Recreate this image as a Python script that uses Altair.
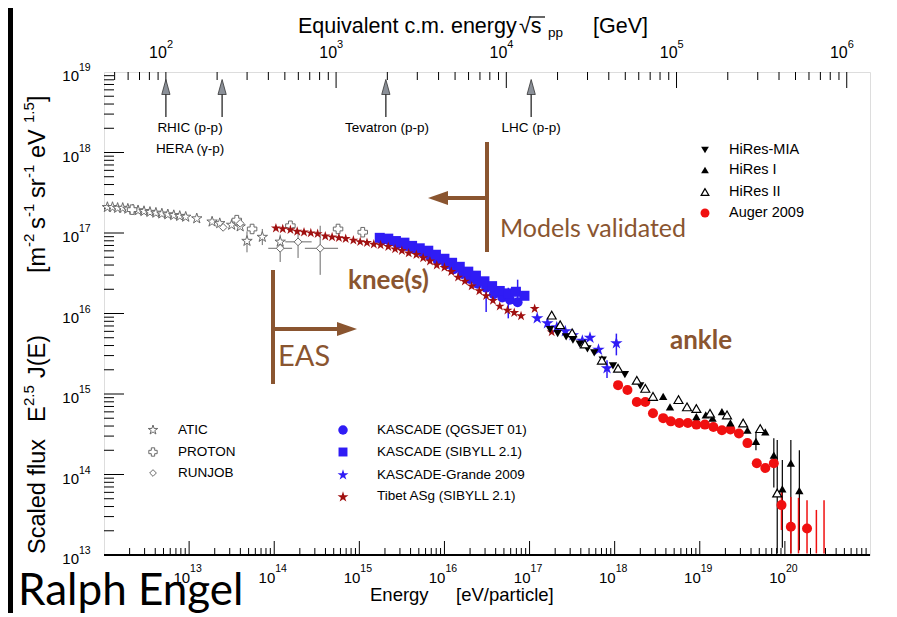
import altair as alt
import pandas as pd

# ---------------- layout / scales ----------------
W, H = 766, 483
X_DOMAIN = [1e12, 1e21]          # energy per particle [eV]
Y_DOMAIN = [1e13, 1e19]          # scaled flux
S_DOMAIN = [43.3, 1.3697e6]      # equivalent sqrt(s_pp) [GeV] over the same range

FONT = "Liberation Sans"
HAND = "Lato"
BROWN = "#8a5530"
BLUE = "#2f1cf5"
DRED = "#a01010"
RED = "#f01010"
GRAY = "#6a6a6a"
STAR = ("M0,-1L0.2245,-0.309L0.951,-0.309L0.363,0.118L0.588,0.809L0,0.382"
        "L-0.588,0.809L-0.363,0.118L-0.951,-0.309L-0.2245,-0.309Z")

# ---------------- data (log10 E [eV], log10 flux) ----------------
atic_logE = [12.04, 12.10, 12.16, 12.22, 12.28, 12.34, 12.40, 12.47, 12.54, 12.61, 12.68, 12.75,
             12.82, 12.89, 12.96, 13.09, 13.27, 13.36, 13.50, 13.60, 13.68, 13.86, 14.07]
atic_logF = [17.32, 17.32, 17.31, 17.31, 17.30, 17.29, 17.28, 17.27, 17.26, 17.25, 17.24, 17.23,
             17.22, 17.21, 17.20, 17.18, 17.14, 17.12, 17.10, 17.08, 16.90, 16.95, 16.89]
atic_err_E = [13.68, 13.86, 14.07]
atic_err_lo = [16.76, 16.85, 16.80]
atic_err_hi = [17.02, 17.05, 16.98]

proton_logE = [12.33, 13.56, 13.74, 14.19, 14.75, 15.04]
proton_logF = [17.29, 17.16, 17.05, 17.09, 17.05, 17.01]

runjob_logE = [13.40, 13.60, 14.07, 14.28, 14.54]
runjob_logF = [17.07, 17.12, 16.81, 16.89, 16.81]
runjob_err_E = [14.07, 14.28, 14.54]
runjob_err_lo = [16.64, 16.69, 16.48]
runjob_err_hi = [16.94, 17.01, 17.09]
runjob_err_Elo = [13.93, 14.13, 14.36]
runjob_err_Ehi = [14.21, 14.44, 14.75]
runjob_err_F = [16.81, 16.89, 16.81]

tibet_logE = [14.02, 14.10, 14.19, 14.27, 14.35, 14.43, 14.51, 14.60, 14.68, 14.76,
              14.84, 14.93, 15.01, 15.09, 15.17, 15.25, 15.34, 15.42, 15.50, 15.58,
              15.67, 15.75, 15.83, 15.91, 16.00, 16.08, 16.16, 16.24, 16.32, 16.41,
              16.49, 16.57, 16.65, 16.74, 16.82, 16.90, 17.06, 17.26]
tibet_logF = [17.06, 17.05, 17.04, 17.02, 17.01, 17.00, 16.99, 16.96, 16.95, 16.94,
              16.93, 16.91, 16.89, 16.88, 16.86, 16.85, 16.83, 16.80, 16.78, 16.75,
              16.73, 16.69, 16.65, 16.60, 16.57, 16.52, 16.45, 16.40, 16.34, 16.28,
              16.22, 16.16, 16.09, 16.04, 16.01, 15.97, 16.06, 15.77]

sib_logE = [15.24, 15.34, 15.43, 15.53, 15.62, 15.71, 15.81, 15.90, 16.00, 16.09,
            16.18, 16.28, 16.37, 16.47, 16.56, 16.65, 16.75, 16.84, 16.94]
sib_logF = [16.94, 16.93, 16.90, 16.88, 16.84, 16.81, 16.78, 16.73, 16.68, 16.63,
            16.58, 16.52, 16.47, 16.40, 16.34, 16.28, 16.25, 16.27, 16.22]

qgs_logE = [15.27, 15.36, 15.45, 15.55, 15.64, 15.74, 15.83, 15.92, 16.02, 16.11,
            16.21, 16.30, 16.39, 16.49, 16.58, 16.68, 16.77, 16.86]
qgs_logF = [16.91, 16.90, 16.86, 16.84, 16.80, 16.76, 16.71, 16.66, 16.61, 16.55,
            16.49, 16.43, 16.37, 16.32, 16.24, 16.20, 16.17, 16.14]
kas_err_E = [16.49, 16.75, 16.86]
kas_err_lo = [16.02, 15.94, 16.11]
kas_err_hi = [16.35, 16.32, 16.42]

kg_logE = [17.09, 17.21, 17.32, 17.42, 17.51, 17.62, 17.71, 17.81, 17.91, 18.02]
kg_logF = [15.94, 15.88, 15.83, 15.78, 15.73, 15.66, 15.70, 15.55, 15.32, 15.63]
kg_err_E = [17.91, 18.02]
kg_err_lo = [15.20, 15.48]
kg_err_hi = [15.42, 15.75]

mia_logE = [17.24, 17.33, 17.43, 17.51, 17.59, 17.68, 17.76, 17.86, 17.98, 18.12, 18.30]
mia_logF = [15.80, 15.75, 15.71, 15.67, 15.62, 15.56, 15.51, 15.42, 15.35, 15.24, 15.10]

h1_logE = [18.57, 18.65, 18.96, 19.07, 19.15, 19.26, 19.36, 19.56, 19.66, 19.77, 19.87, 19.97, 20.07, 20.17]
h1_logF = [14.97, 14.84, 14.72, 14.74, 14.70, 14.78, 14.64, 14.55, 14.41, 14.53, 14.24, 13.82, 14.14, 13.80]
h1_err_E = [19.66, 19.87, 19.97, 20.07, 20.17]
h1_err_lo = [14.30, 13.84, 13.09, 13.02, 13.06]
h1_err_hi = [14.52, 14.45, 14.18, 14.43, 14.30]

h2_logE = [17.26, 17.36, 17.50, 17.65, 17.85, 18.04, 18.26, 18.36, 18.45, 18.75, 18.85,
           18.96, 19.12, 19.32, 19.51, 19.71, 19.91]
h2_logF = [15.98, 15.86, 15.76, 15.62, 15.42, 15.32, 15.17, 15.07, 14.97, 14.93, 14.84,
           14.82, 14.76, 14.74, 14.64, 14.57, 13.77]
h2_err_E = [19.91]
h2_err_lo = [13.02]
h2_err_hi = [14.43]

aug_logE = [18.04, 18.15, 18.26, 18.36, 18.45, 18.57, 18.66, 18.76, 18.86, 18.96, 19.06,
            19.16, 19.26, 19.36, 19.46, 19.56, 19.67, 19.77, 19.87, 19.96, 20.07, 20.26]
aug_logF = [15.11, 15.05, 14.90, 14.90, 14.76, 14.70, 14.66, 14.64, 14.64, 14.62, 14.62,
            14.59, 14.55, 14.56, 14.51, 14.39, 14.14, 14.08, 14.14, 13.62, 13.35, 13.33]
aug_err_E = [19.96, 20.07, 20.26, 20.16, 20.37, 20.46]
aug_err_lo = [13.31, 13.02, 13.02, 13.02, 13.02, 13.02]
aug_err_hi = [13.78, 13.72, 13.68, 13.71, 13.56, 13.68]

# accelerator reference energies, sqrt(s) [GeV]
acc_sqrt_s = [100, 214, 1960, 14000]

# axis ticks
bottom_exps = [13, 14, 15, 16, 17, 18, 19, 20]
left_exps = [13, 14, 15, 16, 17, 18, 19]
top_exps = [2, 3, 4, 5, 6]
bottom_major = [10.0 ** e for e in bottom_exps]
bottom_minor = [m * 10.0 ** k for k in range(12, 21) for m in range(2, 10)]
left_major = [10.0 ** e for e in range(14, 19)]
left_minor = [m * 10.0 ** k for k in range(13, 19) for m in range(2, 10)]
top_major = [10.0 ** e for e in top_exps]
top_minor = [m * 10.0 ** k for k in range(1, 6) for m in range(2, 10) if m * 10.0 ** k > 43.3]

ONE = pd.DataFrame({"k": [0]})


# ---------------- helpers ----------------
def xE(field="E"):
    return alt.X(f"{field}:Q", scale=alt.Scale(type="log", domain=X_DOMAIN, nice=False), axis=None)


def yF(field="F"):
    return alt.Y(f"{field}:Q", scale=alt.Scale(type="log", domain=Y_DOMAIN, nice=False), axis=None)


def xS(field="S"):
    return alt.X(f"{field}:Q", scale=alt.Scale(type="log", domain=S_DOMAIN, nice=False), axis=None)


def pts(logE, logF, **mark):
    df = pd.DataFrame({"E": [10 ** v for v in logE], "F": [10 ** v for v in logF]})
    return alt.Chart(df).mark_point(opacity=1, **mark).encode(x=xE(), y=yF())


def verr(logE, lo, hi, color, width=1.0):
    df = pd.DataFrame({"E": [10 ** v for v in logE], "F": [10 ** v for v in lo],
                       "F2": [10 ** v for v in hi]})
    return alt.Chart(df).mark_rule(color=color, strokeWidth=width).encode(
        x=xE(), y=yF(), y2=alt.Y2("F2:Q"))


def herr(elo, ehi, logF, color, width=1.0):
    df = pd.DataFrame({"E": [10 ** v for v in elo], "E2": [10 ** v for v in ehi],
                       "F": [10 ** v for v in logF]})
    return alt.Chart(df).mark_rule(color=color, strokeWidth=width).encode(
        x=xE(), x2=alt.X2("E2:Q"), y=yF())


def txt(t, x, y, size, color="black", font=FONT, align="left", baseline="middle",
        angle=0, weight="normal"):
    return alt.Chart(ONE).mark_text(text=t, fontSize=size, font=font, color=color, align=align,
                                    baseline=baseline, angle=angle, fontWeight=weight).encode(
        x=alt.value(x), y=alt.value(y))


def sym(x, y, **mark):
    return alt.Chart(ONE).mark_point(opacity=1, **mark).encode(x=alt.value(x), y=alt.value(y))


def hline(x1, x2, y, color, width):
    return alt.Chart(ONE).mark_rule(color=color, strokeWidth=width).encode(
        x=alt.value(x1), x2=alt.value(x2), y=alt.value(y))


def vline(x, y1, y2, color, width):
    return alt.Chart(ONE).mark_rule(color=color, strokeWidth=width).encode(
        x=alt.value(x), y=alt.value(y1), y2=alt.value(y2))


layers = []

# ---------------- ticks (inside the frame) ----------------
layers.append(alt.Chart(pd.DataFrame({"E": bottom_major})).mark_rule(color="black", strokeWidth=1)
              .encode(x=xE(), y=alt.value(H), y2=alt.value(H - 14)))
layers.append(alt.Chart(pd.DataFrame({"E": bottom_minor})).mark_rule(color="black", strokeWidth=1)
              .encode(x=xE(), y=alt.value(H), y2=alt.value(H - 7)))
layers.append(alt.Chart(pd.DataFrame({"F": left_major})).mark_rule(color="black", strokeWidth=1)
              .encode(y=yF(), x=alt.value(0), x2=alt.value(20)))
layers.append(alt.Chart(pd.DataFrame({"F": left_minor})).mark_rule(color="black", strokeWidth=1)
              .encode(y=yF(), x=alt.value(0), x2=alt.value(10)))
layers.append(alt.Chart(pd.DataFrame({"S": top_major})).mark_rule(color="black", strokeWidth=1)
              .encode(x=xS(), y=alt.value(0), y2=alt.value(16)))
layers.append(alt.Chart(pd.DataFrame({"S": top_minor})).mark_rule(color="black", strokeWidth=1)
              .encode(x=xS(), y=alt.value(0), y2=alt.value(8)))
layers.append(hline(0, W, H, "black", 2))

# ---------------- tick labels ----------------
bl = pd.DataFrame({"E": [10.0 ** e for e in bottom_exps], "ex": [str(e) for e in bottom_exps]})
layers.append(alt.Chart(bl).mark_text(text="10", font=FONT, fontSize=15, align="right", dx=1)
              .encode(x=xE(), y=alt.value(H + 23)))
layers.append(alt.Chart(bl).mark_text(font=FONT, fontSize=10.5, align="left", dx=1)
              .encode(x=xE(), y=alt.value(H + 14), text="ex:N"))
ll = pd.DataFrame({"F": [10.0 ** e for e in left_exps], "ex": [str(e) for e in left_exps]})
layers.append(alt.Chart(ll).mark_text(text="10", font=FONT, fontSize=15, align="right", dy=4)
              .encode(y=yF(), x=alt.value(-25)))
layers.append(alt.Chart(ll).mark_text(font=FONT, fontSize=10.5, align="left", dy=-4)
              .encode(y=yF(), x=alt.value(-25), text="ex:N"))
tl = pd.DataFrame({"S": [10.0 ** e for e in top_exps], "ex": [str(e) for e in top_exps]})
layers.append(alt.Chart(tl).mark_text(text="10", font=FONT, fontSize=16, align="right", dx=1)
              .encode(x=xS(), y=alt.value(-19)))
layers.append(alt.Chart(tl).mark_text(font=FONT, fontSize=11, align="left", dx=1)
              .encode(x=xS(), y=alt.value(-27), text="ex:N"))

# ---------------- axis titles ----------------
layers += [
    txt("Equivalent c.m. energy", 194, -45, 21.5),
    txt("\u221as", 415, -45, 21.5),
    hline(425, 441, -55, "black", 1.2),
    txt("pp", 444, -39, 13.5),
    txt("[GeV]", 489, -45, 21.5),
    txt("Energy", 266, 523, 18.5),
    txt("[eV/particle]", 352, 523, 18.5),
]
YT = -66
for t, yy, size, off in [
    ("Scaled flux", 482, 23.5, 0), ("E", 350, 23.5, 0), ("2.5", 334, 15, -9), ("J(E)", 306, 23.5, 0),
    ("[m", 201, 23.5, 0), ("-2", 175, 15, -9), ("s", 157, 23.5, 0), ("-1", 145, 15, -9),
    ("sr", 126, 23.5, 0), ("-1", 106, 15, -9), ("eV", 86, 23.5, 0), ("1.5", 51, 15, -9),
    ("]", 30, 23.5, 0)]:
    layers.append(txt(t, YT + off, yy, size, angle=270))

# ---------------- accelerator arrows ----------------
acc = pd.DataFrame({"S": acc_sqrt_s})
layers.append(alt.Chart(acc).mark_rule(color="#444444", strokeWidth=1.5)
              .encode(x=xS(), y=alt.value(22), y2=alt.value(45)))
layers.append(alt.Chart(acc).mark_point(shape="M0,-1L0.55,1L-0.55,1Z", size=225, filled=True,
                                        fill="#8b9098", stroke="#333333", strokeWidth=0.8, opacity=1)
              .encode(x=xS(), y=alt.value(15)))
layers += [
    txt("RHIC (p-p)", 86, 56, 13.5, align="center"),
    txt("HERA (\u03b3-p)", 86, 77, 13.5, align="center"),
    txt("Tevatron (p-p)", 283, 56, 13.5, align="center"),
    txt("LHC (p-p)", 427, 56, 13.5, align="center"),
]

# ---------------- data ----------------
layers += [
    verr(atic_err_E, atic_err_lo, atic_err_hi, GRAY),
    verr(runjob_err_E, runjob_err_lo, runjob_err_hi, GRAY),
    herr(runjob_err_Elo, runjob_err_Ehi, runjob_err_F, GRAY),
    pts(atic_logE, atic_logF, shape=STAR, size=120, filled=True, fill="white", stroke=GRAY, strokeWidth=1),
    pts(proton_logE, proton_logF, shape="cross", size=90, filled=True, fill="white", stroke=GRAY, strokeWidth=1),
    pts(runjob_logE, runjob_logF, shape="diamond", size=60, filled=True, fill="white", stroke=GRAY, strokeWidth=1),
    verr(kas_err_E, kas_err_lo, kas_err_hi, BLUE, 1.5),
    pts(qgs_logE, qgs_logF, shape="circle", size=100, filled=True, color=BLUE),
    pts(sib_logE, sib_logF, shape="square", size=100, filled=True, color=BLUE),
    pts(tibet_logE, tibet_logF, shape=STAR, size=110, filled=True, color=DRED),
    verr(kg_err_E, kg_err_lo, kg_err_hi, BLUE, 1.5),
    pts(kg_logE, kg_logF, shape=STAR, size=170, filled=True, color=BLUE),
    pts(mia_logE, mia_logF, shape="triangle-down", size=70, filled=True, color="black"),
    verr(h1_err_E, h1_err_lo, h1_err_hi, "black", 1.2),
    verr(h2_err_E, h2_err_lo, h2_err_hi, "black", 1.2),
    verr(aug_err_E, aug_err_lo, aug_err_hi, RED, 1.5),
    pts(aug_logE, aug_logF, shape="circle", size=100, filled=True, color=RED),
    pts(h1_logE, h1_logF, shape="triangle-up", size=70, filled=True, color="black"),
    pts(h2_logE, h2_logF, shape="triangle-up", size=80, filled=True, fill="white", stroke="black", strokeWidth=1.2),
]

# ---------------- legends ----------------
layers += [
    sym(49, 358, shape=STAR, size=100, filled=True, fill="white", stroke=GRAY, strokeWidth=1),
    sym(49, 380, shape="cross", size=70, filled=True, fill="white", stroke=GRAY, strokeWidth=1),
    sym(49, 401, shape="diamond", size=45, filled=True, fill="white", stroke=GRAY, strokeWidth=1),
    txt("ATIC", 74, 358, 13.5), txt("PROTON", 74, 380, 13.5), txt("RUNJOB", 74, 401, 13.5),
    sym(239, 358, shape="circle", size=90, filled=True, color=BLUE),
    sym(239, 380, shape="square", size=80, filled=True, color=BLUE),
    sym(239, 403, shape=STAR, size=130, filled=True, color=BLUE),
    sym(239, 425, shape=STAR, size=130, filled=True, color=DRED),
    txt("KASCADE (QGSJET 01)", 273, 358, 13.5), txt("KASCADE (SIBYLL 2.1)", 273, 380, 13.5),
    txt("KASCADE-Grande 2009", 273, 403, 13.5), txt("Tibet ASg (SIBYLL 2.1)", 273, 424, 13.5),
    sym(601, 78, shape="triangle-down", size=60, filled=True, color="black"),
    sym(601, 98, shape="triangle-up", size=60, filled=True, color="black"),
    sym(601, 120, shape="triangle-up", size=60, filled=True, fill="white", stroke="black", strokeWidth=1.2),
    sym(601, 141, shape="circle", size=80, filled=True, color=RED),
    txt("HiRes-MIA", 625, 78, 14.5), txt("HiRes I", 625, 98, 14.5),
    txt("HiRes II", 625, 120, 14.5), txt("Auger 2009", 625, 141, 14.5),
]

# ---------------- annotations ----------------
layers += [
    vline(383, 70, 180, BROWN, 4),
    hline(337, 383, 126, BROWN, 4),
    sym(334, 126, shape="M-1,0L1,-0.7L1,0.7Z", size=400, filled=True, color=BROWN),
    txt("Models validated", 396, 157, 25, color=BROWN, font=HAND),
    txt("knee(s)", 244, 209, 26, color=BROWN, font=HAND, weight="bold"),
    vline(169, 198, 312, BROWN, 4),
    hline(169, 240, 257, BROWN, 4),
    sym(243, 257, shape="M1,0L-1,-0.7L-1,0.7Z", size=400, filled=True, color=BROWN),
    txt("EAS", 174, 285, 29, color=BROWN, font=HAND),
    txt("ankle", 566, 269, 26, color=BROWN, font=HAND, weight="bold"),
    txt("Ralph Engel", -86, 533, 44, font=HAND, baseline="alphabetic"),
    alt.Chart(ONE).mark_rect(color="black").encode(
        x=alt.value(-96), x2=alt.value(-91), y=alt.value(-64), y2=alt.value(H + 60)),
]

chart = (
    alt.layer(*layers)
    .resolve_scale(x="independent", y="independent")
    .properties(width=W, height=H, autosize=alt.AutoSizeParams(type="none"),
                padding={"left": 96, "top": 64, "right": 10, "bottom": 58})
    .configure_view(stroke="black", strokeWidth=1.3)
    .configure(background="white")
)

chart.save("out.html", embed_options={"renderer": "svg", "actions": False})
